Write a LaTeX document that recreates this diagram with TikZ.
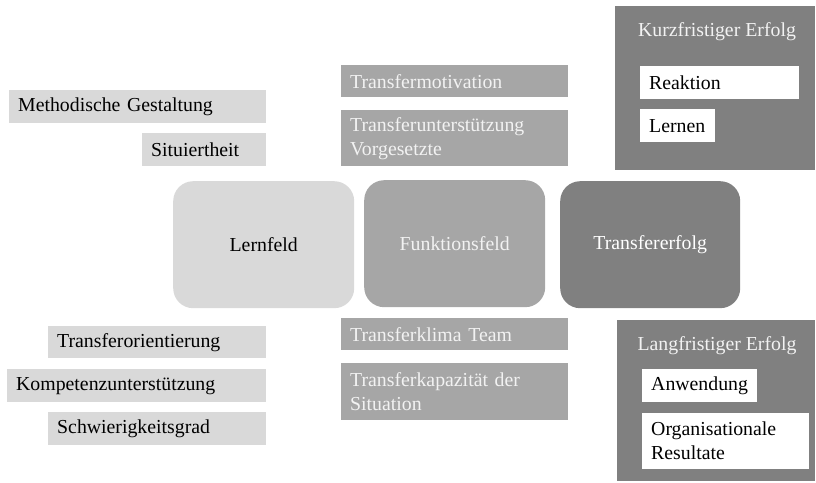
\documentclass[tikz,border=0pt]{standalone}
\usepackage{fontspec}
\setmainfont{Liberation Serif}
\definecolor{hell}{HTML}{D9D9D9}
\definecolor{mittel}{HTML}{A6A6A6}
\definecolor{dunkel}{HTML}{808080}
\tikzset{
  feld/.style={anchor=north west,inner xsep=9pt,inner ysep=0pt,align=left,
    font=\fontsize{19.8}{24}\selectfont},
  hellfeld/.style={feld,fill=hell,text=black},
  mittelfeld/.style={feld,fill=mittel,text=white!95!black},
  weissfeld/.style={feld,fill=white,text=black},
  block/.style={anchor=north west,rounded corners=20pt,minimum width=181pt,
    minimum height=127pt,font=\fontsize{19.8}{24}\selectfont},
  rahmen/.style={anchor=north west,fill=dunkel,inner sep=0pt},
  titel/.style={anchor=north,text=white!95!black,font=\fontsize{19.8}{24}\selectfont}
}
\begin{document}
\begin{tikzpicture}[x=1pt,y=-1pt]
  \useasboundingbox (0,0) rectangle (816,482);

  % Mitte
  \node[block,fill=hell] (lernfeld) at (173,181) {Lernfeld};
  \node[block,fill=mittel,text=white!95!black] (funktion) at (364,180) {Funktionsfeld};
  \node[block,fill=dunkel,text=white,minimum width=180pt] (erfolg) at (560,181) {Transfererfolg};

  % Lernfeld oben / unten
  \node[hellfeld,text width=239pt,minimum height=33pt] (methodik) at (9,90) {Methodische Gestaltung};
  \node[hellfeld,text width=106pt,minimum height=33pt] (situiert) at (142,133) {Situiertheit};
  \node[hellfeld,text width=200pt,minimum height=32pt] (orient) at (48,326) {Transferorientierung};
  \node[hellfeld,text width=241pt,minimum height=33pt] (kompetenz) at (7,369) {Kompetenzunterst\"utzung};
  \node[hellfeld,text width=200pt,minimum height=33pt] (schwierig) at (48,412) {Schwierigkeitsgrad};

  % Funktionsfeld oben / unten
  \node[mittelfeld,text width=209pt,minimum height=32pt] (motivation) at (341,65) {Transfermotivation};
  \node[mittelfeld,text width=209pt,minimum height=56pt] (vorgesetzte) at (341,110) {Transferunterst\"utzung\\Vorgesetzte};
  \node[mittelfeld,text width=209pt,minimum height=32pt] (klima) at (341,318) {Transferklima Team};
  \node[mittelfeld,text width=209pt,minimum height=57pt] (kapazitaet) at (341,363) {Transferkapazit\"at der\\Situation};

  % kurzfristig
  \node[rahmen,minimum width=200pt,minimum height=164pt] (kurz) at (615,6) {};
  \node[titel] (kurztitel) at (717,19) {Kurzfristiger Erfolg};
  \node[weissfeld,text width=141pt,minimum height=33pt] (reaktion) at (640,66) {Reaktion};
  \node[weissfeld,text width=57pt,minimum height=33pt] (lernen) at (640,109) {Lernen};

  % langfristig
  \node[rahmen,minimum width=198pt,minimum height=161pt] (lang) at (617,320) {};
  \node[titel] (langtitel) at (717,333) {Langfristiger Erfolg};
  \node[weissfeld,text width=97pt,minimum height=33pt] (anwendung) at (642,369) {Anwendung};
  \node[weissfeld,text width=149pt,minimum height=56pt] (resultate) at (642,413) {Organisationale\\Resultate};
\end{tikzpicture}
\end{document}
